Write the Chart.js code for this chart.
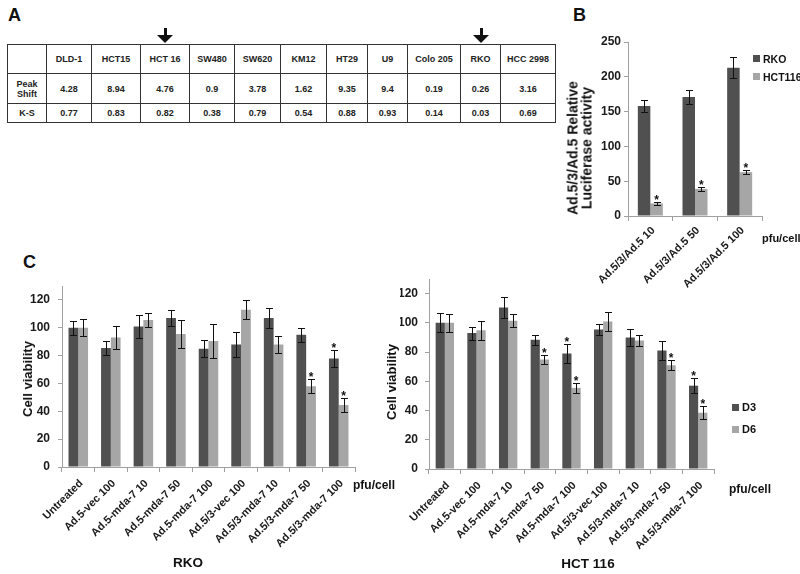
<!DOCTYPE html>
<html>
<head>
<meta charset="utf-8">
<script src="https://cdn.jsdelivr.net/npm/chart.js@4.4.1/dist/chart.umd.min.js"></script>
<style>
  html, body { margin: 0; padding: 0; background: #fff; }
  body { width: 800px; height: 574px; position: relative; overflow: hidden;
         font-family: 'Liberation Sans', Arial, sans-serif; color: #111; }
  canvas { position: absolute; }
  .panel { position: absolute; font-weight: bold; font-size: 18px; line-height: 18px; }
  .txt { position: absolute; font-weight: bold; line-height: 1; white-space: nowrap; transform: translateY(-50%); }
  .ctr { transform: translate(-50%, -50%); }
  .ytitle { position: absolute; font-weight: bold; font-size: 13px; line-height: 12px; text-align: center;
            white-space: nowrap; transform: translate(-50%, -50%) rotate(-90deg); }
  .sw { position: absolute; }
  #tbl { position: absolute; left: 7px; top: 44px; border-collapse: collapse; table-layout: fixed; }
  #tbl td { border: 1.5px solid #333; text-align: center; vertical-align: middle; font-weight: bold;
            font-size: 9px; line-height: 10px; padding: 0; color: #222; }
  .stem { position: absolute; width: 3px; height: 8px; background: #111; }
  .head { position: absolute; width: 0; height: 0; border-left: 8px solid transparent;
          border-right: 8px solid transparent; border-top: 8px solid #111; }
</style>
</head>
<body>
<div class="panel" style="left:8px;top:6px">A</div>
<div class="panel" style="left:573px;top:6px">B</div>
<div class="panel" style="left:23px;top:253px">C</div>

<table id="tbl"></table>

<canvas id="chartB" width="240" height="270" style="left:560px;top:30px"></canvas>
<canvas id="chartRKO" width="400" height="296" style="left:0px;top:270px"></canvas>
<canvas id="chartHCT" width="400" height="296" style="left:400px;top:270px"></canvas>

<div class="ytitle" style="left:580px;top:148px;font-size:14px;line-height:13.5px">Ad.5/3/Ad.5 Relative<br>Luciferase activity</div>
<div class="ytitle" style="left:28px;top:379px">Cell viability</div>
<div class="ytitle" style="left:392px;top:382px">Cell viability</div>

<div class="txt" style="left:762px;top:238px;font-size:11px">pfu/cell</div>
<div class="txt" style="left:353px;top:485px;font-size:12px">pfu/cell</div>
<div class="txt" style="left:729px;top:489px;font-size:12px">pfu/cell</div>
<div class="txt ctr" style="left:188px;top:563px;font-size:13.5px">RKO</div>
<div class="txt ctr" style="left:588px;top:564px;font-size:13.5px">HCT 116</div>

<div id="legends"></div>

<script>
/* ── Panel A: flow cytometry table ── */
const CELL_LINES = ['DLD-1', 'HCT15', 'HCT 16', 'SW480', 'SW620', 'KM12', 'HT29', 'U9', 'Colo 205', 'RKO', 'HCC 2998'];
const PEAK_SHIFT = [4.28, 8.94, 4.76, 0.9, 3.78, 1.62, 9.35, 9.4, 0.19, 0.26, 3.16];
const KS_VALUES  = [0.77, 0.83, 0.82, 0.38, 0.79, 0.54, 0.88, 0.93, 0.14, 0.03, 0.69];
const MARKED     = ['HCT 16', 'RKO'];

/* ── Panel B: luciferase activity ── */
const B_DOSES    = ['Ad.5/3/Ad.5 10', 'Ad.5/3/Ad.5 50', 'Ad.5/3/Ad.5 100'];
const B_SERIES   = ['RKO', 'HCT116'];
const B_RKO      = [158, 171, 213];
const B_RKO_ERR  = [9, 10, 15];
const B_HCT      = [18, 39, 63];
const B_HCT_ERR  = [1.5, 3, 3];
const B_HCT_SIG  = [true, true, true];
const B_TICKS    = [0, 50, 100, 150, 200, 250];

/* ── Panel C: cell viability ── */
const C_TREATMENTS = ['Untreated', 'Ad.5-vec 100', 'Ad.5-mda-7 10', 'Ad.5-mda-7 50', 'Ad.5-mda-7 100',
                      'Ad.5/3-vec 100', 'Ad.5/3-mda-7 10', 'Ad.5/3-mda-7 50', 'Ad.5/3-mda-7 100'];
const C_SERIES   = ['D3', 'D6'];
const RKO_D3     = [100, 85.5, 101, 107, 85, 88, 107, 95, 78];
const RKO_D3_ERR = [5, 5, 8, 6, 6, 9, 7, 5, 6];
const RKO_D3_SIG = [false, false, false, false, false, false, false, false, true];
const RKO_D6     = [100, 93, 105.5, 95.5, 90.5, 113, 88, 58, 44.5];
const RKO_D6_ERR = [6, 8, 5, 10, 12, 7, 6, 5, 5];
const RKO_D6_SIG = [false, false, false, false, false, false, false, true, true];
const HCT_D3     = [100, 93, 110.5, 88.5, 79, 95.5, 90, 81, 57];
const HCT_D3_ERR = [6.5, 4.5, 7.5, 3.5, 6.5, 4, 5.5, 6.5, 5];
const HCT_D3_SIG = [false, false, false, false, true, false, false, false, true];
const HCT_D6     = [100, 95, 101.5, 75, 55.5, 101, 88, 71, 38.5];
const HCT_D6_ERR = [6, 6.5, 4.5, 3, 3.5, 6.5, 4, 3.5, 4.5];
const HCT_D6_SIG = [false, false, false, true, true, false, false, true, true];
const C_TICKS    = [0, 20, 40, 60, 80, 100, 120];

const DARK = '#505050';
const LIGHT = '#a6a6a6';
const AXIS = '#a0a0a0';
const FONT = "'Liberation Sans', Arial, sans-serif";

/* table */
const COL_W = [39, 45, 49, 49, 45, 46, 46, 41, 40, 53, 40, 55];
const tbl = document.getElementById('tbl');
let html = '<colgroup>' + COL_W.map(w => `<col style="width:${w}px">`).join('') + '</colgroup>';
html += '<tr style="height:29px"><td></td>' + CELL_LINES.map(c => `<td>${c}</td>`).join('') + '</tr>';
html += '<tr style="height:30px"><td>Peak<br>Shift</td>' + PEAK_SHIFT.map(v => `<td>${v}</td>`).join('') + '</tr>';
html += '<tr style="height:19px"><td>K-S</td>' + KS_VALUES.map(v => `<td>${v}</td>`).join('') + '</tr>';
tbl.innerHTML = html;

// arrows over the marked cell lines
const headCells = tbl.rows[0].cells;
MARKED.forEach(name => {
  const r = headCells[CELL_LINES.indexOf(name) + 1].getBoundingClientRect();
  const cx = Math.round(r.left + r.width / 2);
  const stem = document.createElement('div');
  stem.className = 'stem';
  stem.style.left = (cx - 1.5) + 'px';
  stem.style.top = '28px';
  const head = document.createElement('div');
  head.className = 'head';
  head.style.left = (cx - 8) + 'px';
  head.style.top = '35px';
  document.body.append(stem, head);
});

/* legends */
function legend(names, colors, x, ys, size) {
  const box = document.getElementById('legends');
  names.forEach((n, i) => {
    const sw = document.createElement('div');
    sw.className = 'sw';
    sw.style.cssText = `left:${x}px;top:${ys[i] - 3.5}px;width:7px;height:7px;background:${colors[i]}`;
    const t = document.createElement('div');
    t.className = 'txt';
    t.style.cssText = `left:${x + 10}px;top:${ys[i]}px;font-size:${size}px`;
    t.textContent = n;
    box.append(sw, t);
  });
}
legend(B_SERIES, [DARK, LIGHT], 753, [58.5, 76.5], 10.5);
legend(C_SERIES, [DARK, LIGHT], 732, [407, 429], 11);

/* ── error bars + significance stars ── */
const errorBars = {
  id: 'errorBars',
  afterDatasetsDraw(chart) {
    const { ctx } = chart;
    const y = chart.scales.y;
    chart.data.datasets.forEach((ds, i) => {
      const meta = chart.getDatasetMeta(i);
      meta.data.forEach((bar, j) => {
        const v = ds.data[j], e = ds.errors[j];
        const top = Math.round(y.getPixelForValue(v + e)) + 0.5;
        const bot = Math.round(y.getPixelForValue(v - e)) + 0.5;
        const x = Math.round(bar.x) + 0.5;
        ctx.save();
        ctx.strokeStyle = '#111';
        ctx.lineWidth = 1;
        ctx.beginPath();
        ctx.moveTo(x, top); ctx.lineTo(x, bot);
        ctx.moveTo(x - 3.5, top); ctx.lineTo(x + 3.5, top);
        ctx.moveTo(x - 3.5, bot); ctx.lineTo(x + 3.5, bot);
        ctx.stroke();
        if (ds.stars && ds.stars[j]) {
          ctx.fillStyle = '#111';
          ctx.font = 'bold 12px ' + FONT;
          ctx.textAlign = 'center';
          ctx.textBaseline = 'alphabetic';
          ctx.fillText('*', bar.x, top + 1);
        }
        ctx.restore();
      });
    });
  }
};

function barChart(id, labels, datasets, o) {
  return new Chart(document.getElementById(id), {
    type: 'bar',
    data: {
      labels: labels,
      datasets: datasets.map((d, i) => ({
        label: d.label,
        data: d.data,
        errors: d.errors,
        stars: d.stars,
        backgroundColor: i === 0 ? DARK : LIGHT,
        borderWidth: 0,
        barPercentage: 1,
        categoryPercentage: o.catPct
      }))
    },
    options: {
      responsive: false,
      animation: false,
      devicePixelRatio: 1,
      layout: { padding: { top: o.padTop, right: o.padRight, left: 0, bottom: 0 } },
      plugins: { legend: { display: false }, tooltip: { enabled: false } },
      scales: {
        x: {
          grid: { drawOnChartArea: false, tickLength: 5, color: AXIS, offset: true },
          border: { color: AXIS },
          ticks: {
            minRotation: 45, maxRotation: 45, autoSkip: false, padding: o.xPad, labelOffset: 3,
            color: '#1a1a1a', font: { family: FONT, weight: 'bold', size: 11 }
          },
          afterFit(s) { s.height = o.xHeight; s.paddingLeft = 0; s.paddingRight = 0; }
        },
        y: {
          min: 0, max: o.max,
          afterBuildTicks(s) { s.ticks = o.ticks.map(v => ({ value: v })); },
          grid: { drawOnChartArea: false, tickLength: 4, color: AXIS },
          border: { color: AXIS },
          ticks: { padding: o.yPad, color: '#1a1a1a', font: { family: FONT, weight: 'bold', size: 12 } },
          afterFit(s) { s.width = o.yWidth; s.paddingTop = 0; s.paddingBottom = 0; }
        }
      }
    },
    plugins: [errorBars]
  });
}

barChart('chartB', B_DOSES, [
  { label: B_SERIES[0], data: B_RKO, errors: B_RKO_ERR },
  { label: B_SERIES[1], data: B_HCT, errors: B_HCT_ERR, stars: B_HCT_SIG }
], { catPct: 0.56, padTop: 12, padRight: 38, xHeight: 84, yWidth: 68, max: 250, ticks: B_TICKS, xPad: 3, yPad: 3 });

barChart('chartRKO', C_TREATMENTS, [
  { label: C_SERIES[0], data: RKO_D3, errors: RKO_D3_ERR, stars: RKO_D3_SIG },
  { label: C_SERIES[1], data: RKO_D6, errors: RKO_D6_ERR, stars: RKO_D6_SIG }
], { catPct: 0.6, padTop: 16, padRight: 45, xHeight: 99, yWidth: 62, max: 130, ticks: C_TICKS, xPad: 5, yPad: 8 });

barChart('chartHCT', C_TREATMENTS, [
  { label: C_SERIES[0], data: HCT_D3, errors: HCT_D3_ERR, stars: HCT_D3_SIG },
  { label: C_SERIES[1], data: HCT_D6, errors: HCT_D6_ERR, stars: HCT_D6_SIG }
], { catPct: 0.58, padTop: 9, padRight: 86, xHeight: 97, yWidth: 29, max: 130, ticks: C_TICKS, xPad: 5, yPad: 7 });
</script>
</body>
</html>
